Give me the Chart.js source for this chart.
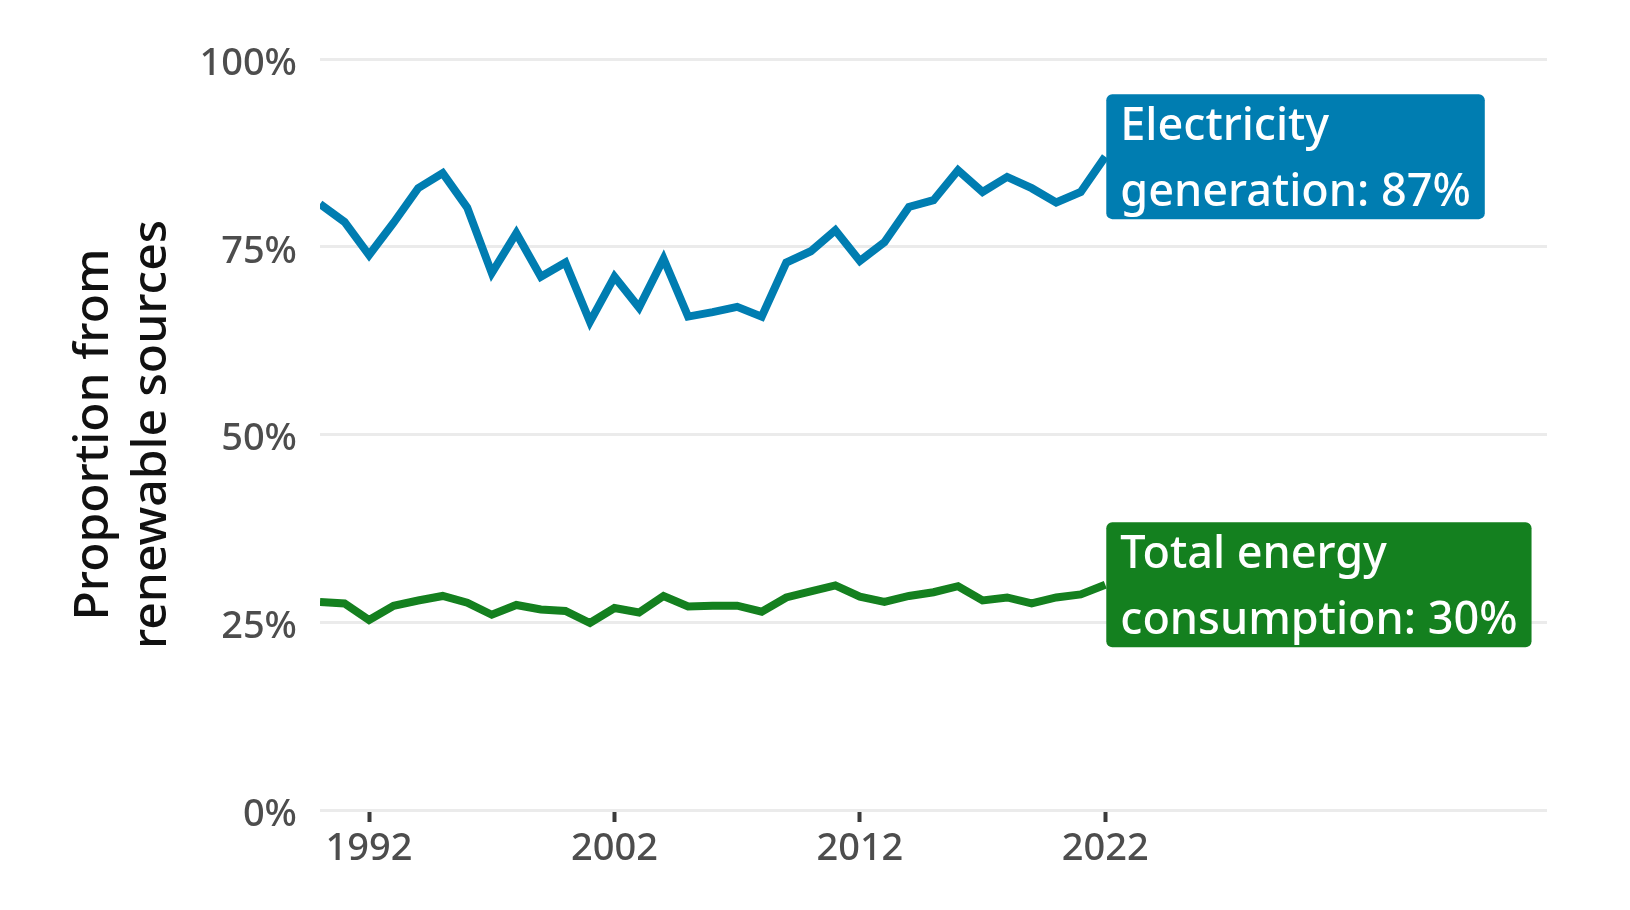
<!DOCTYPE html>
<html>
<head>
<meta charset="utf-8">
<script src="https://cdn.jsdelivr.net/npm/chart.js@4"></script>
<style>
  body { margin: 0; background: #fff; }
  canvas { display: block; }
</style>
</head>
<body>
<canvas id="chart" width="1630" height="910"></canvas>
<script>
// data
const years = [1990,1991,1992,1993,1994,1995,1996,1997,1998,1999,2000,2001,2002,2003,2004,2005,
               2006,2007,2008,2009,2010,2011,2012,2013,2014,2015,2016,2017,2018,2019,2020,2021,2022];
const electricity = [80.7,78.3,73.9,78.2,82.8,84.8,80.2,71.5,76.8,71.0,72.9,65.0,71.0,66.9,73.4,65.7,
                     66.3,67.0,65.7,72.9,74.4,77.2,73.1,75.6,80.3,81.2,85.2,82.3,84.3,82.8,80.9,82.3,87.0];
const totalEnergy = [27.7,27.5,25.3,27.2,27.9,28.5,27.6,26.0,27.3,26.7,26.5,24.9,26.9,26.3,28.5,27.1,
                     27.2,27.2,26.4,28.3,29.1,29.9,28.4,27.7,28.5,29.0,29.8,27.9,28.3,27.5,28.3,28.7,30.0];
const xTicks = [1992, 2002, 2012, 2022];
const yTicks = [0, 25, 50, 75, 100];
const seriesNames = [["Electricity", "generation"], ["Total energy", "consumption"]];

const blue = "#007db1";
const green = "#14801f";
const font = "'Noto Sans', 'Open Sans', sans-serif";

function points(values) {
    return years.map((yr, i) => ({ x: yr, y: values[i] }));
}

// end-of-line boxes with the last value
const endLabels = {
    id: "endLabels",
    afterDatasetsDraw(chart) {
        const ctx = chart.ctx;
        ctx.save();
        ctx.font = "500 45px " + font;
        chart.data.datasets.forEach(function(ds, i) {
            const meta = chart.getDatasetMeta(i);
            const pt = meta.data[meta.data.length - 1];
            const last = ds.data[ds.data.length - 1].y;
            const lines = [seriesNames[i][0], seriesNames[i][1] + ": " + Math.round(last) + "%"];
            const w = Math.max(ctx.measureText(lines[0]).width, ctx.measureText(lines[1]).width) + 28;
            const h = 125;
            const x = pt.x + 1;
            const y = pt.y - h / 2;
            ctx.fillStyle = ds.borderColor;
            ctx.beginPath();
            ctx.roundRect(x, y, w, h, 6);
            ctx.fill();
            ctx.fillStyle = "#fff";
            ctx.textBaseline = "alphabetic";
            ctx.textAlign = "left";
            ctx.fillText(lines[0], x + 14, y + 46);
            ctx.fillText(lines[1], x + 14, y + 112);
        });
        ctx.restore();
    }
};

new Chart("chart", {
    type: "line",
    data: {
        datasets: [
            {
                label: "Electricity generation",
                data: points(electricity),
                borderColor: blue,
                borderWidth: 8,
                pointRadius: 0,
                tension: 0
            },
            {
                label: "Total energy consumption",
                data: points(totalEnergy),
                borderColor: green,
                borderWidth: 8,
                pointRadius: 0,
                tension: 0
            }
        ]
    },
    options: {
        responsive: false,
        animation: false,
        devicePixelRatio: 1,
        layout: { padding: { top: 59, right: 83, bottom: 0, left: 0 } },
        plugins: {
            legend: { display: false },
            tooltip: { enabled: false }
        },
        scales: {
            x: {
                type: "linear",
                min: 1990,
                max: 2040,
                afterBuildTicks: function(s) { s.ticks = xTicks.map(v => ({ value: v })); },
                afterFit: function(s) { s.height = 100; },
                border: { display: false },
                grid: {
                    drawOnChartArea: false,
                    drawTicks: true,
                    tickLength: 12,
                    tickWidth: 4,
                    tickColor: "#3a3a3a"
                },
                ticks: {
                    color: "#4d4d4d",
                    font: { family: font, size: 38, weight: "500" },
                    padding: 4,
                    maxRotation: 0,
                    callback: v => String(v)
                }
            },
            y: {
                min: 0,
                max: 100,
                afterBuildTicks: function(s) { s.ticks = yTicks.map(v => ({ value: v })); },
                afterFit: function(s) { s.width = 320; },
                border: { display: false },
                grid: {
                    color: "#ebebeb",
                    lineWidth: 3,
                    drawTicks: false
                },
                ticks: {
                    color: "#4d4d4d",
                    font: { family: font, size: 38, weight: "500" },
                    padding: 23,
                    labelOffset: 5,
                    callback: v => v + "%"
                },
                title: {
                    display: true,
                    text: ["Proportion from", "renewable sources"],
                    color: "#111",
                    font: { family: font, size: 48, weight: "500", lineHeight: 1.2 },
                    padding: { top: 66, bottom: 0 }
                }
            }
        }
    },
    plugins: [endLabels]
});
</script>
</body>
</html>
